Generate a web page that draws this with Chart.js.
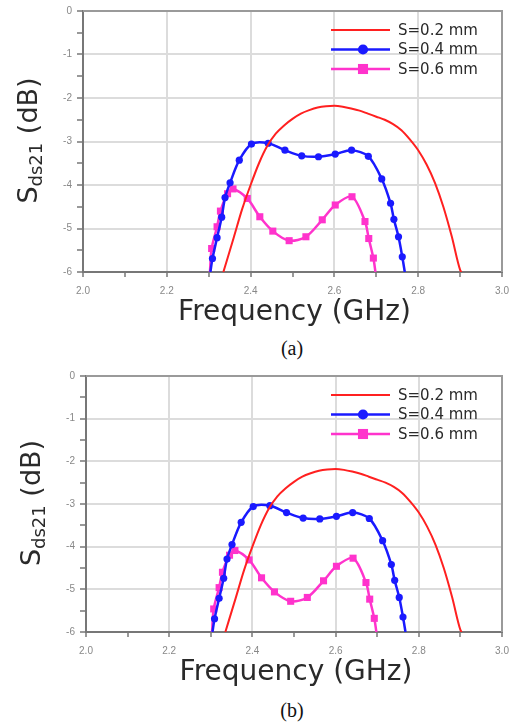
<!DOCTYPE html>
<html>
<head>
<meta charset="utf-8">
<script src="https://cdn.jsdelivr.net/npm/chart.js@4.4.1/dist/chart.umd.min.js"></script>
<style>
  body { margin: 0; background: #fff; }
  #page { position: relative; width: 520px; height: 726px; overflow: hidden; }
  canvas { position: absolute; left: 0; }
  .cap { position: absolute; left: 242px; width: 100px; text-align: center;
         font: 20px "Liberation Serif", "Times New Roman", serif; color: #111; line-height: 24px; }
</style>
</head>
<body>
<div id="page">
  <canvas id="chartA" width="520" height="330" style="top:0px"></canvas>
  <div class="cap" style="top:336px">(a)</div>
  <canvas id="chartB" width="520" height="330" style="top:360px"></canvas>
  <div class="cap" style="top:698px">(b)</div>
</div>
<script>
// --- DATA ---
// S=0.2 mm
const freq02 = [2.335, 2.36, 2.38, 2.40, 2.42, 2.44, 2.46, 2.48, 2.50, 2.52, 2.54, 2.56, 2.58, 2.60,
                2.62, 2.64, 2.66, 2.68, 2.70, 2.72, 2.74, 2.76, 2.78, 2.80, 2.82, 2.84, 2.86, 2.88, 2.90, 2.903];
const sds02 = [-6, -5.2, -4.55, -4.0, -3.5, -3.1, -2.82, -2.63, -2.48, -2.36, -2.28, -2.22, -2.19, -2.18,
               -2.2, -2.24, -2.29, -2.36, -2.43, -2.5, -2.6, -2.74, -2.95, -3.2, -3.53, -3.95, -4.5, -5.18, -5.95, -6];
// S=0.4 mm
const freq04 = [2.304, 2.309, 2.320, 2.331, 2.339, 2.351, 2.373, 2.402, 2.442, 2.482, 2.522, 2.562,
                2.602, 2.641, 2.681, 2.713, 2.734, 2.742, 2.753, 2.762, 2.768];
const sds04 = [-6, -5.69, -5.21, -4.74, -4.29, -3.95, -3.43, -3.06, -3.04, -3.2, -3.33, -3.35,
               -3.29, -3.2, -3.34, -3.86, -4.42, -4.79, -5.19, -5.65, -6];
// S=0.6 mm
const freq06 = [2.303, 2.307, 2.320, 2.328, 2.345, 2.358, 2.392, 2.422, 2.453, 2.492, 2.532, 2.571,
                2.602, 2.642, 2.673, 2.682, 2.693, 2.698];
const sds06 = [-6, -5.46, -4.96, -4.6, -4.2, -4.09, -4.31, -4.73, -5.06, -5.28, -5.19, -4.8,
               -4.46, -4.27, -4.84, -5.23, -5.68, -6];

const seriesNames = ['S=0.2 mm', 'S=0.4 mm', 'S=0.6 mm'];
const xMajor = [2.0, 2.2, 2.4, 2.6, 2.8, 3.0];
const yMajor = [0, -1, -2, -3, -4, -5, -6];

// --- STYLE ---
const colors = ['#ff2020', '#1a1aff', '#ff33cc'];
const markers = [null, { style: 'circle', r: 3.6 }, { style: 'rect', r: 5 }];

function toPoints(xs, ys) {
    return xs.map((x, i) => ({ x: x, y: ys[i] }));
}
function isMajor(v, list) {
    return list.some(m => Math.abs(m - v) < 1e-6);
}
function gridColor(list) {
    return c => {
        if (!c.tick) return '#dcdcdc';
        return isMajor(c.tick.value, list) ? '#dcdcdc' : 'rgba(0,0,0,0)';
    };
}

// titles, legend and top/right frame drawn on the canvas
const frameText = {
    id: 'frameText',
    afterDraw(chart) {
        const ctx = chart.ctx;
        const a = chart.chartArea;
        ctx.save();

        // frame on top and right of the plot
        ctx.strokeStyle = '#9a9a9a';
        ctx.lineWidth = 2;
        ctx.beginPath();
        ctx.moveTo(a.left, a.top);
        ctx.lineTo(a.right, a.top);
        ctx.lineTo(a.right, a.bottom);
        ctx.stroke();

        ctx.fillStyle = '#2a2a2a';

        // x title
        ctx.font = '28px "DejaVu Sans"';
        ctx.textAlign = 'center';
        ctx.textBaseline = 'alphabetic';
        ctx.fillText('Frequency (GHz)', (a.left + a.right) / 2 + 2, a.bottom + 48);

        // y title: S_ds21 (dB)
        ctx.save();
        ctx.translate(a.left - 46, (a.top + a.bottom) / 2 - 1);
        ctx.rotate(-Math.PI / 2);
        ctx.textAlign = 'left';
        ctx.font = '27px "DejaVu Sans"';
        const wS = ctx.measureText('S').width;
        const wRest = ctx.measureText(' (dB)').width;
        ctx.font = '18px "DejaVu Sans"';
        const wSub = ctx.measureText('ds21').width;
        let x0 = -(wS + wSub + wRest) / 2;
        ctx.font = '27px "DejaVu Sans"';
        ctx.fillText('S', x0, 0);
        ctx.font = '18px "DejaVu Sans"';
        ctx.fillText('ds21', x0 + wS, 5);
        ctx.font = '27px "DejaVu Sans"';
        ctx.fillText(' (dB)', x0 + wS + wSub, 0);
        ctx.restore();

        // legend
        ctx.font = '15px "DejaVu Sans"';
        ctx.textBaseline = 'middle';
        ctx.textAlign = 'left';
        chart.data.datasets.forEach((ds, i) => {
            const y = a.top + 19 + i * 19.5;
            ctx.strokeStyle = ds.borderColor;
            ctx.lineWidth = ds.borderWidth;
            ctx.beginPath();
            ctx.moveTo(a.right - 171, y);
            ctx.lineTo(a.right - 112, y);
            ctx.stroke();
            const m = markers[i];
            if (m) {
                const mx = a.right - 139;
                ctx.fillStyle = ds.borderColor;
                ctx.beginPath();
                if (m.style === 'circle') {
                    ctx.arc(mx, y, m.r + 1.5, 0, Math.PI * 2);
                } else {
                    const s = m.r * Math.SQRT1_2 + 1.5;
                    ctx.rect(mx - s, y - s, 2 * s, 2 * s);
                }
                ctx.fill();
            }
            ctx.fillStyle = '#2a2a2a';
            ctx.fillText(ds.label, a.right - 104, y + 1);
        });
        ctx.restore();
    }
};

function makeDataset(i, xs, ys) {
    const m = markers[i];
    return {
        label: seriesNames[i],
        data: toPoints(xs, ys),
        borderColor: colors[i],
        backgroundColor: colors[i],
        borderWidth: i === 0 ? 2 : 2.5,
        tension: 0.3,
        cubicInterpolationMode: i === 0 ? 'monotone' : 'default',
        pointStyle: m ? m.style : false,
        pointRadius: c => (m && c.raw && c.raw.y > -5.99) ? m.r : 0,
        pointBorderWidth: 0
    };
}

function makeChart(id, padTop, leftWidth) {
    const ctx = document.getElementById(id).getContext('2d');
    return new Chart(ctx, {
        type: 'line',
        data: {
            datasets: [
                makeDataset(0, freq02, sds02),
                makeDataset(1, freq04, sds04),
                makeDataset(2, freq06, sds06)
            ]
        },
        options: {
            responsive: false,
            animation: false,
            events: [],
            layout: { padding: { top: padTop, right: 18, left: 0, bottom: 0 } },
            plugins: { legend: { display: false }, tooltip: { enabled: false } },
            scales: {
                x: {
                    type: 'linear',
                    min: 2.0, max: 3.0,
                    afterFit: s => { s.height = 58; },
                    border: { color: '#777', width: 2 },
                    grid: {
                        color: gridColor(xMajor),
                        lineWidth: 2,
                        tickColor: '#777',
                        tickLength: 5,
                        tickWidth: 1.5
                    },
                    ticks: {
                        stepSize: 0.1,
                        autoSkip: false,
                        maxRotation: 0,
                        padding: 8,
                        color: '#888',
                        font: { family: 'Liberation Sans', size: 10 },
                        callback: v => isMajor(v, xMajor) ? v.toFixed(1) : ''
                    }
                },
                y: {
                    type: 'linear',
                    min: -6, max: 0,
                    afterFit: s => { s.width = leftWidth; },
                    border: { color: '#777', width: 2 },
                    grid: {
                        color: gridColor(yMajor),
                        lineWidth: 2,
                        tickColor: '#777',
                        tickLength: 6,
                        tickWidth: 1.5
                    },
                    ticks: {
                        stepSize: 0.5,
                        autoSkip: false,
                        padding: 5,
                        color: '#888',
                        font: { family: 'Liberation Sans', size: 10 },
                        callback: v => isMajor(v, yMajor) ? String(v) : ''
                    }
                }
            }
        },
        plugins: [frameText]
    });
}

makeChart('chartA', 11, 83);
makeChart('chartB', 16, 86);
</script>
</body>
</html>
